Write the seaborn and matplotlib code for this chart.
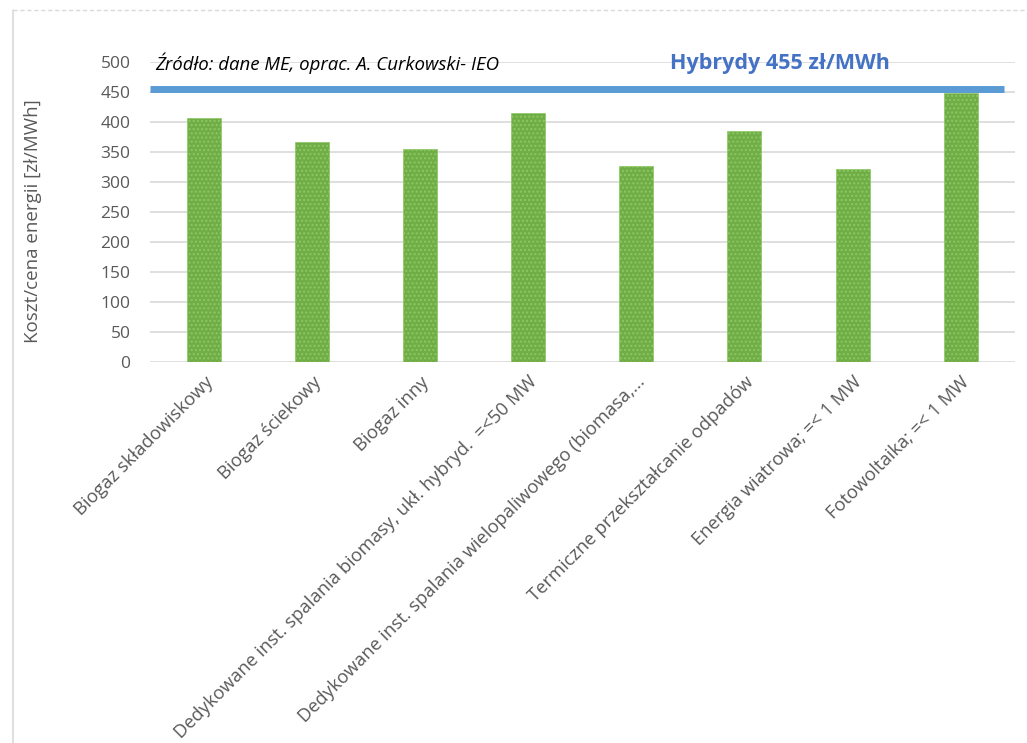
import matplotlib
matplotlib.use("Agg")
import matplotlib.pyplot as plt
import seaborn as sns
import pandas as pd
from matplotlib.lines import Line2D

categories = [
    "Biogaz składowiskowy",
    "Biogaz ściekowy",
    "Biogaz inny",
    "Dedykowane inst. spalania biomasy, ukł. hybryd.  =<50 MW",
    "Dedykowane inst. spalania wielopaliwowego (biomasa,...",
    "Termiczne przekształcanie odpadów",
    "Energia wiatrowa; =< 1 MW",
    "Fotowoltaika; =< 1 MW",
]
values = [407, 367, 355, 415, 327, 385, 322, 448]
hybrid_value = 455
yticks = [0, 50, 100, 150, 200, 250, 300, 350, 400, 450, 500]

sns.set_theme(style="white")
plt.rcParams['font.family'] = ['Open Sans', 'DejaVu Sans']

df = pd.DataFrame({"cat": categories, "val": values})

fig = plt.figure(figsize=(10.27, 7.43), dpi=100)
ax = fig.add_axes([0.146, 0.513, 0.842, 0.404])

sns.barplot(data=df, x="cat", y="val", color="#70AD47", width=0.315,
            saturation=1, ax=ax, zorder=3)
for p in ax.patches:
    p.set_edgecolor("#8CC862")
    p.set_linewidth(0.5)
    p.set_hatch("....")

ax.set_ylim(0, 500)
ax.set_xlim(-0.5, len(categories) - 0.5)
ax.set_yticks(yticks)
ax.yaxis.grid(True, color="#D9D9D9", linewidth=1.2, zorder=0)
ax.set_axisbelow(True)
for s in ax.spines.values():
    s.set_visible(False)
ax.tick_params(axis='both', length=0, colors="#595959")
ax.tick_params(axis='y', pad=14, labelsize=12.5)
ax.tick_params(axis='x', pad=8, labelsize=13.2)
ax.set_xlabel("")
ax.set_ylabel("Koszt/cena energii [zł/MWh]", color="#595959", fontsize=13.5)
ax.yaxis.set_label_coords(-0.125, 0.47)
ax.set_xticks(range(len(categories)))
ax.set_xticklabels(categories, rotation=45, ha="right", rotation_mode="anchor")
for lab in ax.get_xticklabels():
    lab.set_color("#595959")

ax.axhline(hybrid_value, xmin=0.0, xmax=0.988, color="#5B9BD5", linewidth=5, zorder=4,
           solid_capstyle="butt")

ax.text(-0.45, 497, "Źródło: dane ME, oprac. A. Curkowski- IEO", style="italic",
        fontsize=13.4, color="black", va="center", ha="left", zorder=5)
ax.text(5.33, 497, "Hybrydy 455 zł/MWh", fontweight="bold", fontsize=15.5,
        color="#4472C4", va="center", ha="center", zorder=5)

# chart frame
fig.add_artist(Line2D([0.0127, 0.0127], [0.0, 0.987], transform=fig.transFigure,
                      color="#D9D9D9", linewidth=1.2))
fig.add_artist(Line2D([0.0127, 1.0], [0.987, 0.987], transform=fig.transFigure,
                      color="#D9D9D9", linewidth=1, linestyle=(0, (3, 2))))

fig.savefig("out.png", dpi=100)
